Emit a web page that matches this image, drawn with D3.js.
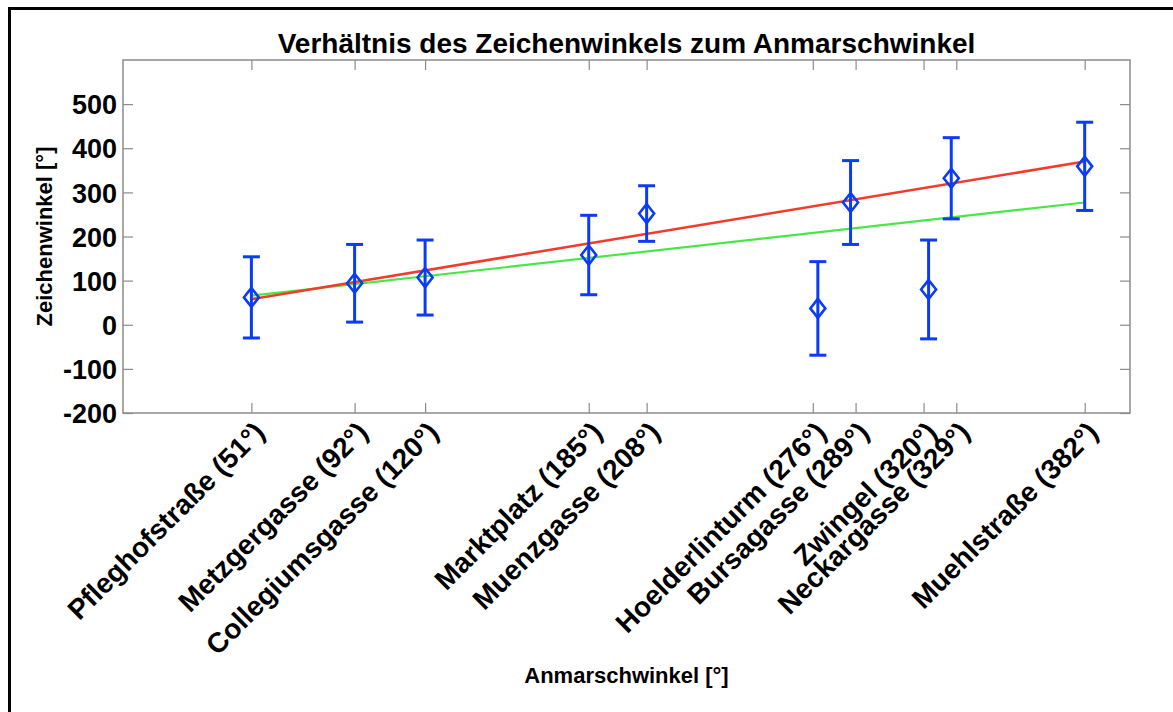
<!DOCTYPE html>
<html>
<head>
<meta charset="utf-8">
<script src="https://cdn.jsdelivr.net/npm/d3@7"></script>
<style>
  html, body { margin: 0; padding: 0; background: #fff; }
  svg { display: block; }
  text { font-family: "Liberation Sans", Arial, Helvetica, sans-serif; font-weight: bold; fill: #000; }
</style>
</head>
<body>
<svg id="chart" width="1173" height="712"></svg>
<script>
// ---- data ----
const orte = ["Pfleghofstraße", "Metzgergasse", "Collegiumsgasse", "Marktplatz", "Muenzgasse",
              "Hoelderlinturm", "Bursagasse", "Zwingel", "Neckargasse", "Muehlstraße"];
const anmarschwinkel = [51, 92, 120, 185, 208, 276, 289, 320, 329, 382];
const zeichenwinkel  = [62, 94, 107, 158, 252, 37, 277, 80, 332, 359];
const fehler         = [92, 88, 85, 90, 63, 106, 95, 112, 92, 100];
const tickPositionen = [51, 92, 120, 185, 208, 274, 291, 318, 331, 382];
const yTicks = [-200, -100, 0, 100, 200, 300, 400, 500];
const fitX     = [51, 382];
const fitRot   = [58, 370];
const fitGruen = [66, 277];

// ---- layout ----
const svg = d3.select("#chart");
const L = 123, R = 1130, T = 60, B = 413;
const x = d3.scaleLinear().domain([0, 400]).range([L, R]);
const y = d3.scaleLinear().domain([-200, 600]).range([B, T]);

const axisColor = "#8c8c8c";
const blue = "#0b3cf5", red = "#f23b2b", green = "#47e845";

// outer figure border
svg.append("rect").attr("x", 9.5).attr("y", 8.5).attr("width", 1300).attr("height", 900)
  .attr("fill", "none").attr("stroke", "#000").attr("stroke-width", 3);

// axes box
svg.append("rect").attr("x", L).attr("y", T).attr("width", R - L).attr("height", B - T)
  .attr("fill", "none").attr("stroke", axisColor).attr("stroke-width", 1.5);

// y axis (left) and right ticks
const yAxisL = d3.axisLeft(y).tickValues(yTicks).tickSize(-10).tickPadding(6).tickFormat(d => String(d));
const gyl = svg.append("g").attr("transform", `translate(${L},0)`).call(yAxisL);
gyl.select(".domain").remove();
gyl.selectAll(".tick line").attr("stroke", axisColor).attr("stroke-width", 1.2);
gyl.selectAll(".tick text").attr("font-size", 27).attr("dy", "0.36em")
  .style("font-family", '"Liberation Sans", Arial, sans-serif').style("font-weight", "bold").attr("fill", "#000");

const yAxisR = d3.axisRight(y).tickValues(yTicks).tickSize(-10).tickFormat("");
const gyr = svg.append("g").attr("transform", `translate(${R},0)`).call(yAxisR);
gyr.select(".domain").remove();
gyr.selectAll(".tick line").attr("stroke", axisColor).attr("stroke-width", 1.2);

// x axis ticks (top and bottom)
const xAxisB = d3.axisBottom(x).tickValues(tickPositionen).tickSize(-10).tickFormat("");
const gxb = svg.append("g").attr("transform", `translate(0,${B})`).call(xAxisB);
gxb.select(".domain").remove();
gxb.selectAll(".tick line").attr("stroke", axisColor).attr("stroke-width", 1.2);

const xAxisT = d3.axisTop(x).tickValues(tickPositionen).tickSize(-10).tickFormat("");
const gxt = svg.append("g").attr("transform", `translate(0,${T})`).call(xAxisT);
gxt.select(".domain").remove();
gxt.selectAll(".tick line").attr("stroke", axisColor).attr("stroke-width", 1.2);

// rotated x tick labels
svg.append("g").selectAll("text").data(tickPositionen).join("text")
  .attr("transform", (d) => `translate(${x(d) + 15},${B + 21}) rotate(-45)`)
  .attr("text-anchor", "end")
  .attr("font-size", 28)
  .text((d, i) => `${orte[i]} (${anmarschwinkel[i]}°)`);

// fit lines
const line = d3.line().x(d => x(d[0])).y(d => y(d[1]));
svg.append("path").datum(fitX.map((v, i) => [v, fitGruen[i]])).attr("d", line)
  .attr("fill", "none").attr("stroke", green).attr("stroke-width", 2.2);
svg.append("path").datum(fitX.map((v, i) => [v, fitRot[i]])).attr("d", line)
  .attr("fill", "none").attr("stroke", red).attr("stroke-width", 2.6);

// error bars
const pts = anmarschwinkel.map((a, i) => ({ a, z: zeichenwinkel[i], e: fehler[i] }));
const eb = svg.append("g").attr("stroke", blue).attr("stroke-width", 3).attr("fill", "none");
pts.forEach(p => {
  const cx = x(p.a);
  eb.append("line").attr("x1", cx).attr("x2", cx).attr("y1", y(p.z - p.e)).attr("y2", y(p.z + p.e));
  eb.append("line").attr("x1", cx - 8.5).attr("x2", cx + 8.5).attr("y1", y(p.z + p.e)).attr("y2", y(p.z + p.e));
  eb.append("line").attr("x1", cx - 8.5).attr("x2", cx + 8.5).attr("y1", y(p.z - p.e)).attr("y2", y(p.z - p.e));
});
// diamond markers
svg.append("g").selectAll("path").data(pts).join("path")
  .attr("d", d => {
    const cx = x(d.a), cy = y(d.z), w = 7.5, h = 9.5;
    return `M${cx},${cy - h}L${cx + w},${cy}L${cx},${cy + h}L${cx - w},${cy}Z`;
  })
  .attr("fill", "none").attr("stroke", blue).attr("stroke-width", 2.6);

// title and axis labels
svg.append("text").attr("x", (L + R) / 2).attr("y", 53).attr("text-anchor", "middle")
  .attr("font-size", 28).text("Verhältnis des Zeichenwinkels zum Anmarschwinkel");
svg.append("text").attr("x", (L + R) / 2).attr("y", 683).attr("text-anchor", "middle")
  .attr("font-size", 22).text("Anmarschwinkel [°]");
svg.append("text").attr("transform", `translate(52,${(T + B) / 2}) rotate(-90)`).attr("text-anchor", "middle")
  .attr("font-size", 22).text("Zeichenwinkel [°]");
</script>
</body>
</html>
